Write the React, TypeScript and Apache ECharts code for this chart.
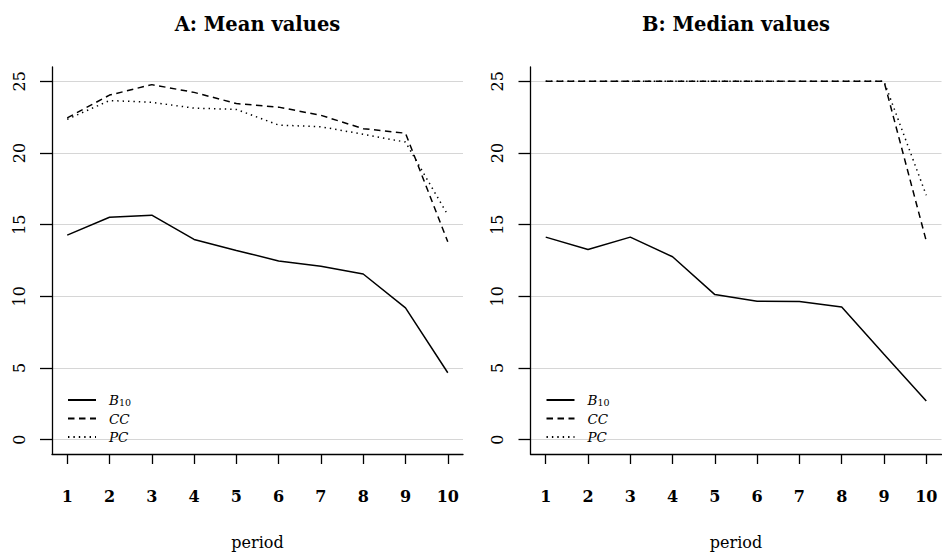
import React, { useEffect, useRef } from "react";
import * as echarts from "echarts";

const periods = [1, 2, 3, 4, 5, 6, 7, 8, 9, 10];
const yTicks = [0, 5, 10, 15, 20, 25];
const seriesNames = ["B10", "CC", "PC"];
const panelTitles = ["A: Mean values", "B: Median values"];
const xAxisTitle = "period";

const meanB10 = [14.27, 15.52, 15.66, 13.97, 13.2, 12.47, 12.1, 11.56, 9.19, 4.67];
const meanCC = [22.45, 24.04, 24.77, 24.23, 23.45, 23.2, 22.63, 21.7, 21.38, 13.81];
const meanPC = [22.35, 23.66, 23.54, 23.13, 23.04, 21.95, 21.83, 21.31, 20.76, 15.68];

const medianB10 = [14.13, 13.27, 14.13, 12.76, 10.12, 9.66, 9.64, 9.25, 5.96, 2.69];
const medianCC = [25, 25, 25, 25, 25, 25, 25, 25, 25, 13.86];
const medianPC = [25, 25, 25, 25, 25, 25, 25, 25, 25, 17.05];

const FONT = "'DejaVu Serif', serif";
const lineTypes: any[] = ["solid", [6.5, 4.5], [1.4, 4]];

export default function App() {
  const ref = useRef<HTMLDivElement>(null);

  useEffect(() => {
    if (!ref.current) return;
    const chart = echarts.init(ref.current, undefined, { renderer: "svg" });

    const grids = [
      { left: 52, top: 67, width: 411, height: 396 },
      { left: 530.5, top: 67, width: 411, height: 396 },
    ];
    const centers = [257.5, 736];

    const xAxes = grids.map((_, i) => ({
      type: "value",
      gridIndex: i,
      min: 0.64,
      max: 10.36,
      name: xAxisTitle,
      nameLocation: "middle",
      nameGap: 80,
      nameTextStyle: { fontFamily: FONT, fontSize: 16, color: "#000" },
      axisLine: { show: true, onZero: false, lineStyle: { color: "#000", width: 1.3 } },
      axisTick: { show: true, length: 10, customValues: periods, lineStyle: { color: "#000", width: 1.3 } },
      axisLabel: {
        customValues: periods,
        margin: 34,
        fontFamily: FONT,
        fontSize: 16,
        fontWeight: "bold",
        color: "#000",
      },
      splitLine: { show: false },
    }));

    const yAxes = grids.map((_, i) => ({
      type: "value",
      gridIndex: i,
      min: -1,
      max: 26,
      axisLine: { show: true, onZero: false, lineStyle: { color: "#000", width: 1.3 } },
      axisTick: { show: true, length: 12, customValues: yTicks, lineStyle: { color: "#000", width: 1.3 } },
      axisLabel: {
        customValues: yTicks,
        rotate: 90,
        margin: 25,
        fontFamily: FONT,
        fontSize: 16,
        color: "#000",
      },
      splitLine: { show: true, lineStyle: { color: "#d6d6d6", width: 1.2 } },
    }));

    const panelData = [
      [meanB10, meanCC, meanPC],
      [medianB10, medianCC, medianPC],
    ];

    const series: any[] = [];
    panelData.forEach((sets, p) => {
      sets.forEach((vals, k) => {
        series.push({
          type: "line",
          name: seriesNames[k],
          xAxisIndex: p,
          yAxisIndex: p,
          symbol: "none",
          data: periods.map((x, j) => [x, vals[j]]),
          lineStyle: { color: "#000", width: 1.5, type: lineTypes[k] },
          itemStyle: { color: "#000" },
          emphasis: { disabled: true },
        });
      });
    });

    const legends = grids.map((g) => ({
      orient: "vertical",
      left: g.left + 10,
      top: 388,
      itemWidth: 28,
      itemHeight: 14,
      itemGap: 4.5,
      selectedMode: false,
      data: seriesNames,
      itemStyle: { opacity: 0, borderWidth: 0 },
      formatter: (name: string) =>
        name === "B10" ? "{it|B}{sub|10}" : "{it|" + name + "}",
      textStyle: {
        color: "#000",
        rich: {
          it: {
            fontFamily: FONT,
            fontStyle: "italic",
            fontSize: 13.5,
            color: "#000",
            padding: [0, 0, 0, 8],
          },
          sub: {
            fontFamily: FONT,
            fontSize: 9.5,
            color: "#000",
            verticalAlign: "bottom",
            padding: [4, 0, 0, 0],
          },
        },
      },
    }));

    const graphics = panelTitles.map((t, i) => ({
      type: "text",
      x: centers[i],
      y: 24,
      style: {
        text: t,
        textAlign: "center",
        textVerticalAlign: "middle",
        fontFamily: FONT,
        fontWeight: "bold",
        fontSize: 19.5,
        fill: "#000",
      },
    }));

    chart.setOption({
      animation: false,
      backgroundColor: "#fff",
      grid: grids,
      xAxis: xAxes,
      yAxis: yAxes,
      legend: legends,
      series,
      graphic: graphics,
    });

    return () => chart.dispose();
  }, []);

  return (
    <div
      ref={ref}
      style={{ position: "fixed", left: 0, top: 0, width: 942, height: 555 }}
    />
  );
}
